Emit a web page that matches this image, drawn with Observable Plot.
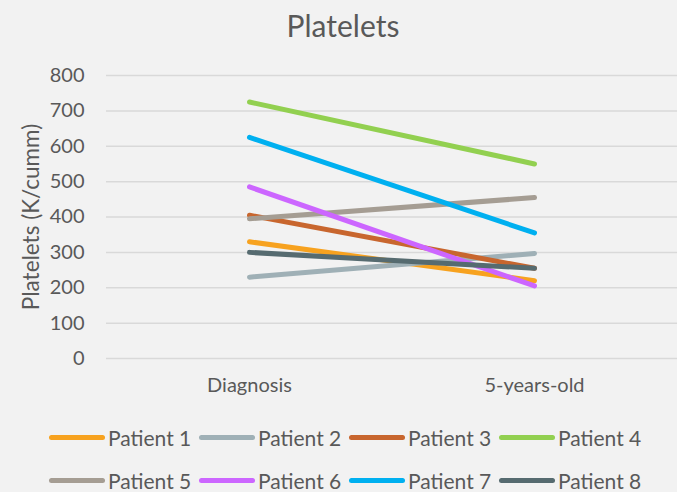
<!DOCTYPE html>
<html><head><meta charset="utf-8">
<script src="https://cdn.jsdelivr.net/npm/d3@7"></script>
<script src="https://cdn.jsdelivr.net/npm/@observablehq/plot@0.6"></script>
<style>
body{margin:0;background:#f2f2f2;font-family:Lato,"Open Sans",sans-serif;color:#595959;width:677px;height:492px;overflow:hidden;position:relative}
#title{height:50px;line-height:50px;text-align:center;font-size:30px;padding-left:9px}
#chart svg{display:block}
#legend{position:absolute;top:416px;left:49px;width:620px}
.item{display:inline-flex;align-items:center;width:150px;height:43px;font-size:21px;vertical-align:top}
.sw{width:56px;height:5px;border-radius:3px;margin-right:3px;flex:none}
</style></head><body>
<div id="title">Platelets</div>
<div id="chart"></div>
<div id="legend"></div>
<script>
const stages = ["Diagnosis", "5-years-old"];
const patients = ["Patient 1","Patient 2","Patient 3","Patient 4","Patient 5","Patient 6","Patient 7","Patient 8"];
const diagnosis = [330, 230, 405, 725, 395, 485, 625, 300];
const fiveYears = [220, 297, 255, 550, 455, 205, 355, 255];
const colors = ["#f7a21f","#9fb0b6","#c8662e","#92d050","#a59d93","#cc66ff","#00b0f0","#566b70"];
const yTicks = [0,100,200,300,400,500,600,700,800];
const yTickLabels = ["0","100","200","300","400","500","600","700","800"];

const data = [];
patients.forEach((p, i) => {
  data.push({patient: p, stage: stages[0], value: diagnosis[i]});
  data.push({patient: p, stage: stages[1], value: fiveYears[i]});
});

const chart = Plot.plot({
  width: 677, height: 360,
  marginLeft: 106, marginRight: 0, marginTop: 25, marginBottom: 52,
  style: {background: "transparent", fontFamily: "Lato, 'Open Sans', sans-serif", color: "#595959", overflow: "visible"},
  x: {type: "point", domain: stages, padding: 0.5},
  y: {domain: [0, 800]},
  color: {domain: patients, range: colors},
  marks: [
    Plot.gridY(yTicks, {stroke: "#d9d9d9", strokeOpacity: 1, strokeWidth: 1.5}),
    Plot.axisY(yTicks, {tickSize: 0, tickPadding: 22, fontSize: 20, tickFormat: (d, i) => yTickLabels[i],
      label: "Platelets (K/cumm)", labelAnchor: "center", labelOffset: 83, labelArrow: "none"}),
    Plot.axisX({tickSize: 0, tickPadding: 19, fontSize: 20, label: null}),
    Plot.line(data, {x: "stage", y: "value", z: "patient", stroke: "patient", strokeWidth: 5, strokeLinecap: "round", strokeLinejoin: "round"})
  ]
});
document.getElementById("chart").appendChild(chart);
chart.querySelectorAll('[aria-label="y-axis label"] text').forEach(t => t.setAttribute("font-size", "22.5"));

const legend = document.getElementById("legend");
patients.forEach((p, i) => {
  const it = document.createElement("div");
  it.className = "item";
  const sw = document.createElement("div");
  sw.className = "sw";
  sw.style.background = colors[i];
  const tx = document.createElement("span");
  tx.textContent = p;
  it.appendChild(sw); it.appendChild(tx);
  legend.appendChild(it);
});
</script>
</body></html>
